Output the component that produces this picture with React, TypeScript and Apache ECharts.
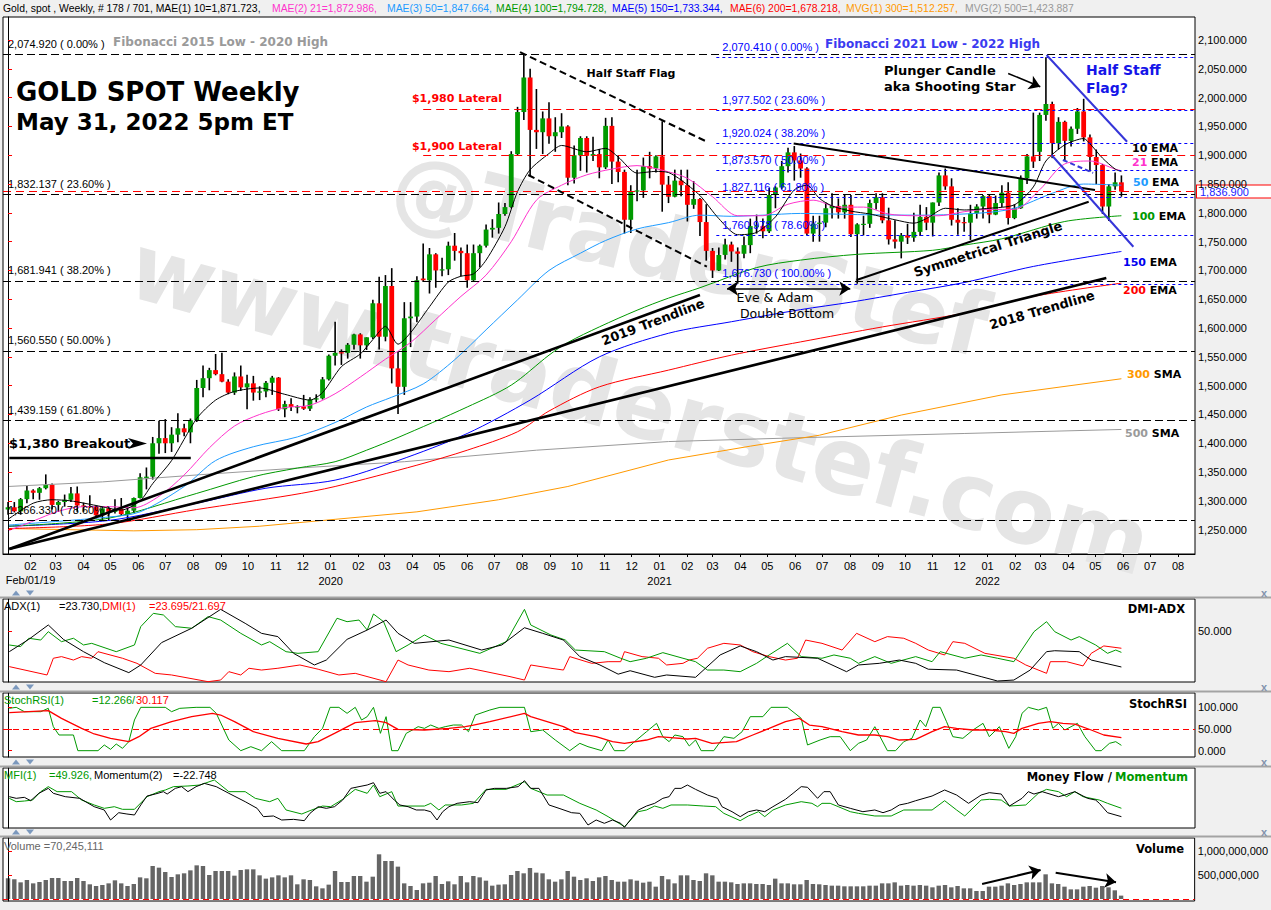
import { useEffect, useRef } from 'react';
import * as echarts from 'echarts';

// ---------------- DATA ----------------
const firstWeekStart = '2019-01-07';
const axisFirstMonth = [2019, 2];
const axisLastMonth = [2022, 8];
const axisStartCaption = 'Feb/01/19';

// weekly candles [open, high, low, close]
const ohlc2019 = [
  [1285, 1298, 1276, 1289], [1289, 1298, 1280, 1282], [1282, 1305, 1276, 1303], [1303, 1326, 1296, 1318],
  [1318, 1320, 1303, 1314], [1314, 1324, 1302, 1322], [1322, 1346, 1320, 1328], [1328, 1330, 1285, 1293],
  [1293, 1300, 1281, 1298], [1298, 1311, 1290, 1302], [1302, 1324, 1298, 1313], [1313, 1325, 1281, 1292],
  [1292, 1297, 1281, 1291], [1291, 1310, 1288, 1290], [1290, 1292, 1270, 1275], [1275, 1290, 1266, 1287],
  [1287, 1289, 1266, 1281], [1281, 1303, 1278, 1286], [1286, 1305, 1274, 1277], [1277, 1289, 1266, 1283],
  [1283, 1306, 1279, 1305], [1305, 1348, 1304, 1341], [1340, 1358, 1320, 1342], [1342, 1411, 1337, 1400],
  [1400, 1439, 1382, 1409], [1409, 1442, 1383, 1400], [1400, 1428, 1385, 1415], [1415, 1452, 1402, 1426],
  [1426, 1434, 1412, 1419], [1419, 1443, 1400, 1440], [1440, 1510, 1437, 1496], [1496, 1535, 1480, 1513],
  [1513, 1531, 1492, 1527], [1527, 1555, 1518, 1520], [1520, 1557, 1506, 1507], [1507, 1511, 1485, 1488],
  [1488, 1523, 1484, 1516], [1516, 1535, 1491, 1497], [1497, 1519, 1459, 1504], [1504, 1517, 1474, 1488],
  [1488, 1499, 1475, 1490], [1490, 1508, 1480, 1505], [1505, 1517, 1484, 1514], [1514, 1515, 1456, 1459],
  [1459, 1474, 1445, 1468], [1468, 1478, 1456, 1463], [1463, 1466, 1452, 1464], [1464, 1484, 1458, 1460],
  [1460, 1480, 1456, 1476], [1476, 1485, 1471, 1478], [1478, 1515, 1476, 1511], [1511, 1554, 1509, 1552],
];
const ohlc2020 = [
  [1552, 1611, 1535, 1557], [1558, 1563, 1536, 1557], [1557, 1574, 1547, 1571], [1571, 1590, 1563, 1589],
  [1589, 1591, 1547, 1570], [1570, 1584, 1562, 1584], [1584, 1649, 1581, 1643], [1643, 1689, 1563, 1585],
  [1585, 1692, 1577, 1673], [1673, 1704, 1504, 1530], [1530, 1560, 1451, 1498], [1498, 1645, 1484, 1617],
  [1617, 1645, 1567, 1620], [1620, 1690, 1610, 1683], [1686, 1747, 1680, 1683], [1683, 1739, 1660, 1728],
  [1728, 1730, 1670, 1700], [1700, 1722, 1690, 1702], [1702, 1750, 1692, 1743], [1743, 1765, 1717, 1734],
  [1734, 1740, 1690, 1730], [1730, 1745, 1670, 1683], [1683, 1745, 1681, 1730], [1730, 1745, 1705, 1743],
  [1743, 1780, 1740, 1771], [1771, 1789, 1757, 1774], [1774, 1818, 1764, 1798], [1798, 1817, 1795, 1810],
  [1810, 1907, 1808, 1902], [1902, 1984, 1900, 1975], [1975, 2075, 1961, 2035], [2035, 2050, 1863, 1944],
  [1944, 2015, 1911, 1940], [1940, 1976, 1902, 1964], [1964, 1992, 1920, 1933], [1933, 1966, 1906, 1940],
  [1940, 1973, 1930, 1950], [1950, 1952, 1848, 1861], [1861, 1917, 1851, 1900], [1900, 1933, 1873, 1930],
  [1930, 1933, 1870, 1899], [1899, 1932, 1890, 1902], [1902, 1911, 1860, 1879], [1879, 1965, 1876, 1951],
  [1951, 1966, 1850, 1889], [1889, 1900, 1853, 1871], [1871, 1875, 1764, 1788], [1788, 1848, 1765, 1838],
  [1838, 1875, 1820, 1839], [1839, 1896, 1826, 1881], [1881, 1906, 1860, 1877], [1877, 1900, 1870, 1898],
];
const ohlc2021 = [
  [1898, 1959, 1802, 1849], [1849, 1864, 1817, 1828], [1828, 1875, 1827, 1856], [1856, 1875, 1829, 1848],
  [1848, 1875, 1785, 1814], [1814, 1855, 1807, 1824], [1824, 1826, 1760, 1784], [1784, 1815, 1717, 1734],
  [1734, 1739, 1687, 1700], [1700, 1740, 1699, 1727], [1727, 1755, 1719, 1745], [1745, 1750, 1715, 1733],
  [1733, 1740, 1677, 1729], [1729, 1759, 1721, 1744], [1744, 1790, 1730, 1777], [1776, 1797, 1764, 1778],
  [1777, 1790, 1756, 1768], [1768, 1843, 1765, 1831], [1831, 1846, 1808, 1844], [1844, 1890, 1841, 1881],
  [1881, 1913, 1870, 1905], [1905, 1916, 1856, 1891], [1891, 1903, 1861, 1877], [1877, 1879, 1761, 1764],
  [1764, 1795, 1750, 1781], [1781, 1795, 1750, 1783], [1783, 1818, 1775, 1808], [1808, 1834, 1790, 1812],
  [1812, 1825, 1790, 1801], [1801, 1832, 1790, 1814], [1814, 1831, 1758, 1763], [1763, 1782, 1677, 1780],
  [1780, 1795, 1761, 1781], [1781, 1823, 1774, 1817], [1817, 1834, 1806, 1827], [1827, 1834, 1782, 1787],
  [1787, 1809, 1745, 1754], [1754, 1787, 1738, 1750], [1750, 1765, 1721, 1761], [1761, 1781, 1746, 1757],
  [1757, 1800, 1750, 1767], [1767, 1814, 1760, 1793], [1793, 1810, 1770, 1783], [1783, 1818, 1759, 1818],
  [1818, 1870, 1812, 1865], [1865, 1877, 1840, 1846], [1846, 1860, 1778, 1788], [1788, 1808, 1762, 1783],
  [1784, 1793, 1767, 1782], [1783, 1814, 1753, 1799], [1799, 1815, 1790, 1811], [1811, 1831, 1790, 1829],
];
const ohlc2022 = [
  [1829, 1831, 1782, 1797], [1797, 1830, 1796, 1817], [1817, 1848, 1810, 1835], [1835, 1853, 1780, 1791],
  [1791, 1815, 1789, 1808], [1808, 1865, 1807, 1860], [1860, 1902, 1850, 1898], [1898, 1974, 1878, 1889],
  [1906, 1974, 1890, 1970], [1970, 2070, 1960, 1989], [1989, 1993, 1895, 1921], [1921, 1966, 1910, 1958],
  [1958, 1960, 1890, 1925], [1925, 1950, 1915, 1946], [1946, 1982, 1937, 1976], [1976, 1998, 1924, 1931],
  [1931, 1936, 1872, 1897], [1897, 1910, 1850, 1883], [1883, 1885, 1798, 1811], [1811, 1850, 1786, 1846],
  [1846, 1870, 1840, 1853], [1853, 1865, 1828, 1836.9],
];

// moving averages [week index, value]
const ema10 = [[0, 1268], [4, 1296], [7, 1302], [10, 1300], [14, 1292], [18, 1284], [21, 1300], [23, 1330], [26, 1370], [30, 1443], [33, 1475], [36, 1490], [40, 1496], [44, 1485], [48, 1475], [50, 1488], [53, 1533], [56, 1555], [58, 1580], [60, 1603], [62, 1572], [64, 1592], [67, 1637], [70, 1680], [72, 1690], [74, 1694], [76, 1718], [79, 1776], [81, 1837], [83, 1875], [86, 1903], [88, 1917], [92, 1906], [95, 1912], [97, 1897], [100, 1869], [103, 1872], [105, 1870], [107, 1857], [110, 1830], [113, 1790], [116, 1762], [119, 1766], [122, 1793], [125, 1840], [127, 1848], [129, 1825], [131, 1812], [134, 1803], [137, 1798], [141, 1788], [144, 1782], [146, 1790], [149, 1808], [152, 1805], [156, 1808], [160, 1814], [163, 1845], [165, 1890], [168, 1918], [171, 1929], [172, 1920], [174, 1895], [176, 1876], [177, 1871.7]];
const ema21 = [[0, 1248], [4, 1265], [8, 1282], [12, 1290], [16, 1290], [20, 1288], [24, 1308], [28, 1345], [32, 1392], [36, 1430], [40, 1450], [44, 1462], [48, 1466], [52, 1486], [56, 1515], [60, 1546], [64, 1575], [68, 1615], [72, 1655], [76, 1692], [80, 1750], [84, 1822], [88, 1848], [92, 1866], [96, 1876], [100, 1882], [104, 1874], [108, 1860], [112, 1828], [116, 1795], [120, 1795], [124, 1815], [128, 1822], [132, 1810], [136, 1810], [140, 1798], [144, 1795], [148, 1795], [152, 1802], [156, 1806], [160, 1806], [164, 1840], [168, 1885], [172, 1890], [176, 1876], [177, 1873]];
const ema50 = [[0, 1258], [16, 1272], [21, 1281], [28, 1325], [33, 1370], [39, 1394], [46, 1411], [52, 1436], [57, 1463], [61, 1480], [66, 1503], [71, 1545], [76, 1597], [81, 1649], [86, 1700], [91, 1730], [95, 1752], [100, 1772], [105, 1783], [110, 1796], [115, 1794], [120, 1796], [126, 1799], [135, 1797], [145, 1796], [155, 1800], [160, 1808], [166, 1834], [171, 1850], [177, 1848]];
const ema100 = [[0, 1256], [16, 1270], [30, 1313], [39, 1342], [46, 1357], [52, 1368], [57, 1388], [62, 1410], [73, 1463], [80, 1501], [86, 1553], [89, 1575], [94, 1602], [100, 1631], [105, 1652], [110, 1670], [119, 1705], [126, 1718], [135, 1728], [147, 1735], [152, 1744], [158, 1755], [168, 1785], [177, 1795]];
const ema150 = [[0, 1256], [16, 1266], [30, 1296], [41, 1322], [52, 1336], [62, 1370], [73, 1417], [83, 1475], [94, 1550], [105, 1591], [115, 1611], [126, 1632], [134, 1645], [143, 1662], [152, 1679], [163, 1707], [177, 1733]];
const ema200 = [[0, 1252], [16, 1260], [30, 1285], [45, 1310], [52, 1325], [65, 1362], [73, 1388], [81, 1420], [86, 1456], [94, 1498], [105, 1527], [115, 1553], [126, 1576], [139, 1602], [152, 1626], [163, 1655], [177, 1678]];
const sma300 = [[0, 1252], [10, 1250], [20, 1248], [30, 1250], [40, 1256], [52, 1268], [65, 1281], [78, 1302], [89, 1325], [105, 1371], [118, 1395], [129, 1414], [142, 1449], [158, 1484], [177, 1512]];
const sma500 = [[0, 1325], [15, 1333], [30, 1345], [46, 1357], [63, 1368], [84, 1388], [105, 1403], [127, 1410], [152, 1417], [177, 1424]];

const priceTicks = [1250, 1300, 1350, 1400, 1450, 1500, 1550, 1600, 1650, 1700, 1750, 1800, 1850, 1900, 1950, 2000, 2050, 2100];
const fibBlack = [2074.92, 1832.137, 1681.941, 1560.55, 1439.159, 1266.33];
const fibBlackPct = ['0.00%', '23.60%', '38.20%', '50.00%', '61.80%', '78.60%'];
const fibBlue = [2070.41, 1977.502, 1920.024, 1873.57, 1827.116, 1760.978, 1676.73];
const fibBluePct = ['0.00%', '23.60%', '38.20%', '50.00%', '61.80%', '78.60%', '100.00%'];
const fibBlueStartWeek = 112.6;
const lateralLevels = [1980, 1900];
const lateralStartWeek = 66;
const lastPrice = 1836.9;

// hand-drawn annotation lines [week, price]
const trend2019 = [[0.2, 1216.5], [110, 1657.4]];
const trend2018 = [[0.2, 1216.5], [174.6, 1686.9]];
const flagUpper = [[81.4, 2079], [111.1, 1923.5]];
const flagLower = [[82.7, 1865.7], [111.1, 1706.5]];
const triUpper = [[124.9, 1920.6], [172.8, 1839.7]];
const triLower = [[134.9, 1683.4], [171.8, 1819.3]];
const blueFlagUpper = [[165.1, 2074], [177.9, 1923.5]];
const blueFlagLower = [[165.9, 1900.5], [178.9, 1741.2]];
const blueFlagMid = [[167.7, 1891.8], [172.5, 1869.3]];
const breakoutLine = [[0.2, 1375], [29.05, 1375]];
const eveAdamArrow = [[114.3, 1668.7], [133.9, 1668.7]];
const plungerArrow = [[159, 2042], [164.1, 2019]];

// indicators [week, value]
const adx = [[0.2, 34.9], [3.3, 43.9], [6.4, 54.4], [8.8, 43.9], [12, 34.9], [15.3, 26.9], [19.2, 19.6], [21.1, 25.2], [24.4, 41.5], [29.2, 52], [33.8, 65.8], [37.7, 55.6], [40.3, 48.3], [42.9, 45.9], [45.4, 33.7], [48.7, 25.2], [50.6, 28.8], [53.9, 43.9], [57.1, 50.7], [60.1, 58], [62, 48.3], [64.6, 41], [70.1, 43.4], [75.3, 36.1], [78.5, 39.8], [82.1, 52.4], [85, 48.3], [88.3, 43.4], [90.9, 31.3], [94.1, 25.2], [97, 18.5], [98.9, 21], [102.8, 16.2], [104.7, 17.9], [109.3, 16.2], [113.2, 32.5], [116.4, 39.1], [119, 34.9], [121.6, 28.8], [123.6, 31.3], [128.7, 30.1], [133.3, 20.3], [135.2, 25.2], [138.5, 26.4], [141.7, 28.8], [144.3, 26.4], [146.3, 22.1], [150.8, 21.5], [154.7, 16.7], [157.3, 13.5], [159.9, 14.2], [162.5, 21.5], [165.1, 34.9], [166.4, 35.6], [170.3, 34.9], [172.2, 28.8], [177, 23.73]];
const diGreen = [[0.2, 39.8], [2, 38.6], [3.3, 44.7], [5.2, 43.4], [6.4, 49.5], [8.5, 42.2], [10.4, 44.7], [12, 39.8], [13.3, 41], [17.2, 34.9], [20.1, 39.8], [21.1, 53.2], [23.1, 62.9], [24.7, 61.7], [26.6, 53.2], [29.2, 52], [31.8, 60.5], [33.8, 58], [37, 48.3], [40.3, 39.8], [41.6, 42.2], [44.2, 34.9], [46.1, 33.7], [49.3, 34.9], [52.3, 59.3], [53.9, 56.8], [55.8, 58], [57.1, 50.7], [58.1, 62.4], [59.7, 56.8], [61.7, 34.9], [63.6, 39.8], [66.2, 47.1], [68.8, 41], [75, 33.7], [79.2, 42.2], [82.1, 65.8], [83.1, 54.4], [86.3, 47.1], [88.6, 43.4], [90.2, 36.1], [94.8, 34.9], [97.4, 30.1], [98.9, 27.6], [101.5, 30.1], [104.1, 34.2], [107.3, 30.1], [109.3, 27.6], [111.2, 21.5], [113.8, 21.5], [116.4, 20.3], [119, 26.4], [121, 32.5], [123.9, 41], [126.1, 31.3], [129.4, 30.1], [131.3, 32.5], [133.9, 30.1], [135.2, 26.4], [137.8, 31.3], [140.4, 26.4], [144.3, 31.3], [146.9, 27.6], [148.2, 34.9], [152.1, 30.1], [154.7, 32.5], [157.3, 30.1], [159.9, 27.6], [163.1, 49.5], [165.1, 56.8], [166.4, 49.5], [169, 43.4], [170.3, 45.9], [172.9, 39.8], [174.8, 33.7], [176.1, 36.1], [177, 34.4]];
const diRed = [[0.2, 24], [6.2, 17.9], [7.2, 30.1], [8.5, 31.3], [10.4, 28.8], [11.7, 31.3], [13.3, 30.1], [14.3, 34.9], [18.2, 30.1], [20.5, 26.4], [23.4, 19.1], [26, 17.9], [31.8, 13], [33.8, 14.2], [35.1, 20.3], [37, 17.9], [38.3, 22.8], [40.3, 21.5], [42.9, 22.8], [46.4, 25.2], [49.3, 22.1], [52.6, 17.9], [55.2, 19.1], [60.1, 13], [62, 28.8], [63.6, 25.2], [66.9, 21.5], [70.1, 20.3], [73.4, 22.8], [79.8, 16.7], [82.1, 14.2], [83.1, 25.2], [86.3, 22.8], [88.3, 21.5], [89.3, 31.3], [92.8, 26.4], [95.4, 27.6], [97.4, 27.6], [98, 34.9], [100.8, 31.3], [103.4, 30.1], [104.7, 25.2], [107.3, 26.4], [108.3, 28.8], [109.6, 30.1], [111.2, 37.4], [113.8, 41], [116.4, 39.8], [118.4, 34.9], [121, 31.3], [123.6, 28.8], [125.5, 30.1], [126.8, 43.4], [129.4, 41], [132.6, 36.1], [134.9, 48.3], [137.8, 42.2], [139.8, 45.9], [142.4, 44.7], [144.3, 41], [146.3, 36.1], [148.9, 32.5], [150.2, 42.2], [152.1, 41], [155.3, 33.7], [159.9, 30.1], [161.8, 25.2], [165.1, 19.1], [165.7, 27.6], [168.3, 27.6], [170.9, 24.5], [172.2, 33.7], [174.2, 39.1], [177, 37.4]];
const stochK = [[0.2, 97.7], [1.3, 100], [2.6, 90], [5.2, 90], [6.4, 97.7], [7.2, 55.4], [8.1, 36.2], [10.4, 36.2], [11.1, 0], [14.3, 0], [15.3, 13.1], [16.3, 3.1], [17.2, 15.4], [18.2, 5.4], [19.2, 20.8], [20.1, 70.8], [21.1, 100], [25, 100], [26, 90], [27.3, 97.7], [29.9, 100], [32.1, 100], [33.1, 86.2], [35.1, 24.6], [37, 0], [38.6, 9.2], [40.3, 0], [41.9, 20.8], [43.5, 0], [47.1, 0], [48.7, 32.3], [50, 51.5], [51.2, 100], [52.6, 100], [53.9, 86.2], [55.2, 100], [56.2, 70.8], [57.1, 78.5], [58.1, 100], [58.8, 63.1], [59.2, 40], [60.1, 78.5], [61, 0], [62, 0], [63.3, 40], [64.3, 47.7], [65.2, 55.4], [66.2, 51.5], [67.2, 59.2], [68.5, 51.5], [69.5, 55.4], [70.8, 59.2], [72.1, 59.2], [73.2, 43.8], [74.3, 82.3], [76.6, 93.8], [78.2, 100], [82.1, 100], [83.1, 43.8], [85, 47.7], [87, 24.6], [89.3, 0], [90.9, 16.9], [92.2, 9.2], [94.4, 0], [95.4, 24.6], [96.4, 0], [98, 0], [99.6, 20.8], [101.5, 43.8], [103.1, 63.1], [104.1, 32.3], [105.1, 20.8], [106, 36.2], [107.3, 32.3], [108.3, 10.8], [109.3, 24.6], [110.2, 0], [112.2, 0], [113.8, 32.3], [115.4, 28.5], [116.7, 43.8], [118, 78.5], [120, 78.5], [121.3, 100], [123.9, 100], [126.1, 74.6], [127.1, 13.1], [129.1, 24.6], [130.7, 32.3], [132.3, 32.3], [133.9, 0], [135.2, 16.9], [136.5, 24.6], [137.8, 55.4], [139.8, 0], [141.1, 0], [142.4, 20.8], [143.7, 28.5], [145, 70.8], [145.9, 55.4], [147, 100], [148.2, 100], [149.2, 66.9], [150.2, 32.3], [151.8, 28.5], [153.4, 47.7], [155, 63.1], [156, 32.3], [157.6, 55.4], [159.1, 5.4], [160.2, 32.3], [161.2, 86.2], [162.2, 100], [163.8, 93.8], [165.1, 100], [166.1, 51.5], [167, 63.1], [168, 47.7], [170, 63.1], [171.2, 32.3], [172.9, 0], [173.8, 0], [175.1, 16.9], [176.1, 20.8], [177, 12.266]];
const stochD = [[0.2, 87.7], [6.4, 92.3], [8.5, 74.6], [11.7, 51.5], [13.7, 38.5], [16.3, 28.5], [19.2, 20.8], [20.8, 32.3], [22.7, 51.5], [26, 66.9], [29.2, 78.5], [32.5, 86.2], [33.8, 82.3], [36, 66.9], [39, 43.8], [42.9, 28.5], [47.4, 15.4], [49.3, 20.8], [51.9, 40], [55.2, 64.6], [58.4, 69.2], [60.1, 64.6], [62, 49.2], [66.2, 47.7], [70.1, 51.5], [72.7, 55.4], [74, 59.2], [76.6, 66.9], [82.1, 86.2], [83.1, 78.5], [88.3, 55.4], [90.2, 41.5], [93.5, 32.3], [96.1, 20.8], [98, 16.9], [101.5, 24.6], [103.4, 32.3], [105.4, 30], [108, 26.9], [109.3, 28.5], [111.9, 16.9], [115.8, 20.8], [118.4, 36.2], [121, 51.5], [123.6, 66.9], [125.8, 74.6], [127.4, 59.2], [129.4, 55.4], [132.6, 43.8], [135.2, 36.2], [137.8, 36.2], [139.8, 32.3], [141.7, 24.6], [144.3, 26.2], [146.9, 43.8], [148.9, 55.4], [150.8, 51.5], [153.4, 47.7], [156, 47.7], [158.6, 43.8], [159.9, 40], [161.2, 51.5], [163.8, 63.1], [165.7, 66.9], [167.7, 63.1], [169.6, 61.5], [172.2, 47.7], [174.2, 36.2], [177, 30.117]];
const moneyFlow = [[0.2, 65], [1.3, 59.9], [2.6, 60.9], [3.9, 62.4], [5.2, 75.1], [6.4, 82.7], [7.8, 75.1], [10.1, 75.1], [11.7, 62.4], [13.7, 54.9], [15.3, 49.8], [16.9, 52.3], [18.2, 48.3], [20.1, 48.3], [22.1, 67.5], [24, 75.1], [25, 77.6], [26.3, 82.7], [28.6, 83.7], [30.5, 85.2], [32.8, 92.8], [35.1, 75.1], [37.7, 75.1], [39.3, 65], [41.6, 59.9], [42.9, 65], [44.2, 47.3], [46.7, 41.2], [48, 46.3], [50, 53.3], [51.3, 52.3], [53.2, 63.5], [55.2, 78.6], [57.1, 72.6], [58.1, 85.2], [59.1, 67.5], [61, 75.1], [62, 53.3], [63.6, 53.3], [66.2, 53.3], [67.2, 57.4], [68.5, 47.3], [69.5, 54.9], [72.1, 54.9], [74, 57.4], [76, 78.6], [79.2, 78.6], [82.1, 90.2], [83.1, 80.1], [85.7, 70], [88.3, 70], [90.9, 57.4], [93.5, 47.3], [95.4, 37.2], [98, 22], [100.2, 44.7], [101.5, 47.3], [102.8, 53.3], [104.1, 49.8], [105.4, 54.9], [108, 54.9], [110.6, 53.3], [112.5, 52.3], [113.8, 42.2], [116.4, 31.1], [117.7, 38.2], [119.3, 44.7], [120.3, 37.2], [121.6, 47.3], [123.6, 54.9], [126.1, 59.9], [127.8, 57.4], [128.7, 52.3], [129.4, 57.4], [130.7, 57.4], [132, 52.3], [133.9, 44.7], [135.2, 42.2], [137.8, 38.2], [140.4, 38.2], [142.4, 47.3], [146.9, 47.3], [148.9, 61.4], [150.8, 47.3], [152.1, 38.2], [154.7, 62.4], [156, 63.5], [157.9, 62.4], [159.2, 53.3], [161.8, 54.9], [163.8, 72.6], [165.1, 78.6], [167, 75.1], [168.3, 67.5], [169.6, 75.1], [170.9, 67.5], [173.5, 62.4], [174.8, 57.4], [177, 49.926]];
const momentum = [[0.2, 67.5], [1.3, 65], [2.6, 66.5], [3.6, 61.4], [4.9, 72.6], [6.4, 80.1], [7.2, 72.6], [9.1, 67.5], [11.4, 65], [13.7, 52.3], [15.3, 47.3], [16.3, 32.1], [17.6, 43.2], [18.9, 41.2], [20.1, 39.7], [21.1, 54.9], [22.1, 68.5], [23.4, 71.5], [24.7, 75.1], [25.3, 71.5], [26.6, 80.1], [27.6, 82.7], [28.6, 75.1], [29.9, 82.7], [31.2, 87.7], [33.1, 82.7], [35.1, 72.6], [37.7, 59.9], [39.6, 49.8], [40.6, 37.2], [42.2, 38.2], [43.5, 32.1], [45.4, 33.1], [47.1, 31.1], [48, 42.2], [49.3, 52.3], [50.6, 49.8], [51.9, 52.3], [53.2, 62.4], [54.5, 80.1], [55.8, 82.7], [57.1, 85.2], [58.1, 88.7], [59.1, 72.6], [60.1, 75.1], [61.4, 62.4], [62.3, 54.9], [63.6, 52.3], [64.9, 47.3], [66.2, 47.3], [67.2, 44.7], [68.2, 32.1], [69.1, 44.7], [70.1, 52.3], [71.4, 57.4], [73.4, 59.9], [74.7, 58.4], [76, 77.6], [77.3, 80.1], [79.2, 80.1], [81.1, 82.7], [82.1, 91.8], [83.1, 80.1], [84.4, 80.1], [86, 54.9], [87.6, 49.8], [89.6, 43.2], [90.9, 42.2], [92.2, 24.5], [93.5, 32.1], [94.8, 27.1], [96.1, 32.1], [97.4, 27.1], [98, 21], [100.2, 47.3], [101.5, 53.3], [102.8, 57.4], [104.1, 65], [105.1, 67.5], [106, 80.1], [107, 80.1], [108, 85.2], [109.3, 78.6], [111.2, 70], [112.8, 65], [113.5, 52.3], [115.1, 44.7], [116.4, 37.2], [117.7, 44.7], [119, 47.3], [120.3, 44.7], [121.6, 52.3], [123.6, 63.5], [124.8, 72.6], [126.1, 82.7], [127.1, 81.7], [128.7, 65], [129.7, 75.1], [130.7, 75.1], [132, 54.9], [133.9, 49.8], [135.9, 44.7], [137.8, 47.3], [139.1, 43.2], [140.4, 47.3], [141.7, 54.9], [143, 57.4], [144.3, 61.4], [146.9, 68.5], [148.9, 77.6], [150.8, 70], [152.7, 57.4], [154.7, 70], [156, 73.6], [157.9, 71.5], [159.2, 53.3], [161.2, 65], [162.2, 75.1], [163.1, 71.5], [164.4, 75.1], [167, 67.5], [168, 70], [169.6, 75.1], [171.6, 65], [172.9, 62.4], [173.5, 57.4], [174.8, 43.2], [177, 37.2]];

// weekly volume, millions
const volume2019 = [431, 410, 347, 396, 326, 354, 396, 437, 437, 375, 375, 437, 375, 306, 271, 292, 326, 389, 326, 271, 313, 451, 431, 687, 653, 562, 458, 514, 535, 597, 701, 687, 500, 583, 583, 583, 486, 604, 618, 618, 493, 424, 451, 493, 451, 493, 306, 410, 396, 264, 222, 299];
const volume2020 = [583, 354, 354, 479, 479, 361, 465, 931, 792, 792, 674, 326, 271, 188, 326, 340, 479, 313, 368, 306, 479, 347, 479, 451, 382, 278, 299, 306, 500, 583, 535, 646, 549, 535, 410, 361, 410, 583, 465, 396, 431, 375, 451, 479, 396, 361, 361, 410, 382, 340, 361, 257];
const volume2021 = [479, 410, 326, 493, 493, 396, 375, 535, 493, 361, 361, 347, 313, 326, 326, 313, 313, 292, 424, 326, 326, 306, 306, 396, 313, 306, 292, 278, 278, 264, 264, 264, 264, 278, 278, 326, 326, 347, 278, 292, 278, 292, 278, 243, 278, 292, 243, 271, 222, 222, 167, 167];
const volume2022 = [257, 257, 278, 326, 292, 313, 347, 347, 347, 514, 326, 313, 257, 201, 201, 257, 271, 236, 271, 243, 181, 70.245111];
const volArrowUp = [[154.9, 312], [164.2, 604]];
const volArrowDown = [[166.6, 548], [176.2, 348]];

// ---------------- CHART ----------------
const SMALL = '"Liberation Sans", Arial, sans-serif';
const BOLDF = '"DejaVu Sans", Verdana, sans-serif';
const X_MIN = -0.8;
const X_MAX = 188.7;

const fmt = (v: number, d: number) =>
  v.toLocaleString('en-US', { minimumFractionDigits: d, maximumFractionDigits: d });

function buildMonthTicks() {
  const start = new Date(firstWeekStart + 'T00:00:00Z').getTime();
  const WEEK = 7 * 86400000;
  const values: number[] = [];
  const labels: { v: number; text: string }[] = [];
  let [y, m] = axisFirstMonth;
  while (y < axisLastMonth[0] || (y === axisLastMonth[0] && m <= axisLastMonth[1])) {
    const v = (Date.UTC(y, m - 1, 1) - start) / WEEK;
    values.push(v);
    const mm = String(m).padStart(2, '0');
    labels.push({ v, text: m === 1 ? `${mm}\n${y}` : mm });
    m++;
    if (m > 12) { m = 1; y++; }
  }
  const label = (val: number) => {
    let best = labels[0];
    for (const l of labels) if (Math.abs(l.v - val) < Math.abs(best.v - val)) best = l;
    return Math.abs(best.v - val) < 0.5 ? best.text : '';
  };
  return { values, label };
}

function txt(x: number, y: number, text: string, font: string, fill: string, align = 'left', extra: any = {}) {
  return {
    type: 'text', x, y, z: 20, silent: true,
    style: { text, font, fill, align, textAlign: align, verticalAlign: 'middle', textVerticalAlign: 'middle' },
    ...extra,
  };
}

function seg(p: number[][], style: any, extra: any = {}) {
  return [{ coord: p[0], lineStyle: style, ...extra }, { coord: p[1] }];
}

function buildOption() {
  const candles = [...ohlc2019, ...ohlc2020, ...ohlc2021, ...ohlc2022];
  const volumes = [...volume2019, ...volume2020, ...volume2021, ...volume2022];
  const months = buildMonthTicks();

  const grids = [
    { left: 3, top: 17, width: 1192, height: 537 },
    { left: 3, top: 599, width: 1192, height: 83 },
    { left: 3, top: 693, width: 1192, height: 64 },
    { left: 3, top: 768, width: 1192, height: 60 },
    { left: 3, top: 838, width: 1192, height: 63 },
  ].map((g) => ({ ...g, show: true, backgroundColor: '#ffffff', borderColor: '#000000', borderWidth: 1 }));

  const xAxes: any[] = grids.map((_, k) => ({
    type: 'value', gridIndex: k, min: X_MIN, max: X_MAX, show: k === 0, z: 6,
    splitLine: { show: false },
    axisLine: { show: true, lineStyle: { color: '#000', width: 1 } },
    axisTick: { show: true, customValues: months.values, length: 3, lineStyle: { color: '#000' } },
    axisLabel: {
      show: true, customValues: months.values, color: '#000', fontSize: 11, fontFamily: SMALL,
      lineHeight: 15, margin: 4, showMinLabel: true, showMaxLabel: true, hideOverlap: false,
      formatter: (v: number) => months.label(Number(v)),
    },
  }));

  const rightAxis = (k: number, min: number, max: number, ticks: number[], f: (v: number) => string) => ({
    type: 'value', gridIndex: k, position: 'right', min, max, z: 6,
    splitLine: { show: false },
    axisLine: { show: true, lineStyle: { color: '#000' } },
    axisTick: { show: ticks.length > 0, customValues: ticks, length: 4, lineStyle: { color: '#ff0000' } },
    axisLabel: { show: ticks.length > 0, customValues: ticks, formatter: f, color: '#000', fontSize: 11, fontFamily: SMALL, margin: 3, showMinLabel: true, showMaxLabel: true },
  });

  const yAxes = [
    rightAxis(0, 1207.8, 2140, priceTicks, (v) => fmt(v, 3)),
    rightAxis(1, 12.77, 73.36, [50], (v) => fmt(v, 3)),
    rightAxis(2, -14.6, 133.1, [0, 50, 100], (v) => fmt(v, 3)),
    rightAxis(3, 19.97, 111, [], (v) => fmt(v, 3)),
    rightAxis(4, -41.7, 1270.8, [500, 1000], (v) => fmt(v * 1e6, 0)),
  ];

  const line = (k: number, data: number[][], color: string, width = 1, smooth: number | boolean = false, z = 4) => ({
    type: 'line', xAxisIndex: k, yAxisIndex: k, data, symbol: 'none', showSymbol: false, smooth,
    lineStyle: { color, width }, z, silent: true,
  });

  const valueBox = (text: string) => ({
    show: true, position: 'end', distance: 2, formatter: text, color: '#2222ff', fontSize: 11, fontFamily: SMALL,
    backgroundColor: '#ffffff', borderColor: '#ff0000', borderWidth: 1, padding: [1, 30, 0, 3],
  });

  const holder = (k: number, z: number, markLine: any) => ({
    type: 'line', xAxisIndex: k, yAxisIndex: k, data: [[-5, 0]], symbol: 'none', showSymbol: false,
    lineStyle: { opacity: 0 }, z, silent: true, markLine: { silent: true, symbol: ['none', 'none'], label: { show: false }, animation: false, ...markLine },
  });

  const blackDash = { color: '#000', type: [8, 4], width: 1 };
  const blueDash = { color: '#0000ff', type: [3, 3], width: 1 };
  const redDash = { color: '#ff0000', type: [8, 5], width: 1 };

  const series: any[] = [
    holder(0, 2, {
      data: [
        ...fibBlack.map((v, i) => ({
          yAxis: v, lineStyle: blackDash,
          label: { show: true, position: 'insideStartTop', distance: [5, 5], formatter: `${fmt(v, 3)} ( ${fibBlackPct[i]} )`, color: '#000', fontSize: 11, fontFamily: SMALL },
        })),
        ...fibBlue.map((v, i) => [
          {
            coord: [fibBlueStartWeek, v], lineStyle: blueDash,
            label: { show: true, position: 'insideStartTop', distance: [6, 5], formatter: `${fmt(v, 3)} ( ${fibBluePct[i]} )`, color: '#0000ff', fontSize: 11, fontFamily: SMALL },
          },
          { coord: [X_MAX, v] },
        ]),
        ...lateralLevels.map((v) => [{ coord: [lateralStartWeek, v], lineStyle: redDash }, { coord: [X_MAX, v] }]),
      ],
    }),
    {
      type: 'custom', xAxisIndex: 0, yAxisIndex: 0, z: 3, silent: true,
      data: candles.map((c, i) => [i, c[0], c[1], c[2], c[3]]),
      encode: { x: 0, y: [1, 2, 3, 4] },
      renderItem: (_p: any, api: any) => {
        const i = api.value(0), o = api.value(1), h = api.value(2), l = api.value(3), c = api.value(4);
        const pH = api.coord([i, h]), pL = api.coord([i, l]), pO = api.coord([i, o]), pC = api.coord([i, c]);
        const bw = 4.8;
        const top = Math.min(pO[1], pC[1]);
        const hgt = Math.max(Math.abs(pO[1] - pC[1]), 1.2);
        return {
          type: 'group',
          children: [
            { type: 'line', shape: { x1: pH[0], y1: pH[1], x2: pL[0], y2: pL[1] }, style: { stroke: '#000', lineWidth: 1.6 } },
            { type: 'rect', shape: { x: pO[0] - bw / 2, y: top, width: bw, height: hgt }, style: { fill: c >= o ? '#009a00' : '#ff0000', stroke: null } },
          ],
        };
      },
    },
    line(0, sma500, '#9a9a9a'),
    line(0, sma300, '#ff9900'),
    line(0, ema200, '#ff0000', 1, 0.3),
    line(0, ema150, '#0000ff', 1, 0.3),
    line(0, ema100, '#009900', 1, 0.3),
    line(0, ema50, '#1e9bff', 1, 0.3),
    line(0, ema21, '#ff33cc', 1, 0.3),
    line(0, ema10, '#000000', 1, 0.25),
    holder(0, 5, {
      data: [
        seg(trend2019, { color: '#000', width: 2.6, type: 'solid' }),
        seg(trend2018, { color: '#000', width: 2.6, type: 'solid' }),
        seg(flagUpper, { color: '#000', width: 2, type: [7, 4] }),
        seg(flagLower, { color: '#000', width: 2, type: [7, 4] }),
        seg(triUpper, { color: '#000', width: 2, type: 'solid' }),
        seg(triLower, { color: '#000', width: 2, type: 'solid' }),
        seg(blueFlagUpper, { color: '#3535d8', width: 2, type: 'solid' }),
        seg(blueFlagLower, { color: '#3535d8', width: 2, type: 'solid' }),
        seg(blueFlagMid, { color: '#3535d8', width: 2, type: [5, 3] }),
        seg(breakoutLine, { color: '#000', width: 2.4, type: 'solid' }),
        { yAxis: lastPrice, lineStyle: redDash, label: valueBox(fmt(lastPrice, 3)) },
      ],
    }),
    holder(0, 5, {
      symbol: ['arrow', 'arrow'], symbolSize: 11,
      data: [seg(eveAdamArrow, { color: '#000', width: 1.6, type: 'solid' })],
    }),
    holder(0, 5, {
      symbol: ['none', 'arrow'], symbolSize: 11,
      data: [seg(plungerArrow, { color: '#000', width: 1.6, type: 'solid' })],
    }),
    line(1, diRed, '#ff0000', 1),
    line(1, diGreen, '#009900', 1),
    line(1, adx, '#000000', 1),
    holder(1, 6, { data: [{ yAxis: 23.73, lineStyle: { opacity: 0 }, label: valueBox('23.730') }] }),
    holder(2, 2, { data: [{ yAxis: 50, lineStyle: { color: '#ff0000', type: [6, 4], width: 1 } }] }),
    line(2, stochK, '#009900', 1),
    line(2, stochD, '#ff0000', 1.3),
    holder(2, 6, { data: [{ yAxis: 12.266, lineStyle: { opacity: 0 }, label: valueBox('12.266') }] }),
    line(3, moneyFlow, '#009900', 1),
    line(3, momentum, '#000000', 1),
    holder(3, 6, { data: [{ yAxis: 49.926, lineStyle: { opacity: 0 }, label: valueBox('49.926') }] }),
    {
      type: 'bar', xAxisIndex: 4, yAxisIndex: 4, data: volumes.map((v, i) => [i, v]), barWidth: 4.4,
      itemStyle: { color: '#656565' }, z: 3, silent: true,
    },
    holder(4, 4, { data: [{ yAxis: 0, lineStyle: { color: '#ff0000', type: [6, 4], width: 1 } }] }),
    holder(4, 6, { data: [{ yAxis: 70.245111, lineStyle: { opacity: 0 }, label: valueBox('70,245,111') }] }),
    holder(4, 5, {
      symbol: ['none', 'arrow'], symbolSize: 11,
      data: [seg(volArrowUp, { color: '#000', width: 2, type: 'solid' }), seg(volArrowDown, { color: '#000', width: 2, type: 'solid' })],
    }),
  ];

  const S = `11px ${SMALL}`;
  const H = `10.4px ${SMALL}`;
  const B11 = `bold 11px ${BOLDF}`;
  const B13 = `bold 13px ${BOLDF}`;
  const maLabel = (x: number, y: number, num: string, color: string, suffix: string) => [
    txt(x, y, num, B11, color),
    txt(x + num.length * 7.66 + 3.8, y, suffix, B11, '#000'),
  ];

  const graphic: any[] = [
    { type: 'text', x: 690, y: 255, rotation: -0.24, z: 1, silent: true, style: { text: '@TraderStef', font: `bold 88px ${BOLDF}`, fill: '#e5e5e5', align: 'center', textAlign: 'center', verticalAlign: 'middle', textVerticalAlign: 'middle' } },
    { type: 'text', x: 640, y: 405, rotation: -0.27, z: 1, silent: true, style: { text: 'www.traderstef.com', font: `bold 92px ${BOLDF}`, fill: '#e5e5e5', align: 'center', textAlign: 'center', verticalAlign: 'middle', textVerticalAlign: 'middle' } },
    txt(3, 8, 'Gold, spot , Weekly, # 178 / 701, MAE(1) 10=1,871.723,', H, '#000'),
    txt(272, 8, 'MAE(2) 21=1,872.986,', H, '#ff33cc'),
    txt(387, 8, 'MAE(3) 50=1,847.664,', H, '#1e9bff'),
    txt(496, 8, 'MAE(4) 100=1,794.728,', H, '#009900'),
    txt(612, 8, 'MAE(5) 150=1,733.344,', H, '#0000ff'),
    txt(730, 8, 'MAE(6) 200=1,678.218,', H, '#ff0000'),
    txt(846, 8, 'MVG(1) 300=1,512.257,', H, '#ff9900'),
    txt(965, 8, 'MVG(2) 500=1,423.887', H, '#999999'),
    txt(30.5, 580, axisStartCaption, S, '#000', 'center'),
    txt(16, 92, 'GOLD SPOT Weekly', `bold 26px ${BOLDF}`, '#000'),
    txt(16, 122, 'May 31, 2022 5pm ET', `bold 23px ${BOLDF}`, '#000'),
    txt(113, 42, 'Fibonacci 2015 Low - 2020 High', `bold 12px ${BOLDF}`, '#9a9a9a'),
    txt(825, 44, 'Fibonacci 2021 Low - 2022 High', `bold 12px ${BOLDF}`, '#3b3bf0'),
    txt(502, 98, '$1,980 Lateral', B11, '#ff0000', 'right'),
    txt(502, 146, '$1,900 Lateral', B11, '#ff0000', 'right'),
    txt(631, 73, 'Half Staff Flag', B11, '#000', 'center'),
    txt(884, 70, 'Plunger Candle', B13, '#000'),
    txt(884, 86, 'aka Shooting Star', B13, '#000'),
    txt(1086, 70, 'Half Staff', `bold 14px ${BOLDF}`, '#1515e8'),
    txt(1086, 88, 'Flag?', `bold 14px ${BOLDF}`, '#1515e8'),
    ...maLabel(1132, 148, '10', '#000', 'EMA'),
    ...maLabel(1132, 162.7, '21', '#ff33cc', 'EMA'),
    ...maLabel(1133, 182.7, '50', '#1e9bff', 'EMA'),
    ...maLabel(1132, 216, '100', '#009900', 'EMA'),
    ...maLabel(1123, 262.7, '150', '#0000ee', 'EMA'),
    ...maLabel(1123, 290.7, '200', '#ff0000', 'EMA'),
    ...maLabel(1127, 374, '300', '#ff9900', 'SMA'),
    ...maLabel(1125, 433, '500', '#9a9a9a', 'SMA'),
    txt(775, 297, 'Eve & Adam', `12.5px ${BOLDF}`, '#000', 'center'),
    txt(787, 313, 'Double Bottom', `12.5px ${BOLDF}`, '#000', 'center'),
    txt(988, 249, 'Symmetrical Triangle', B13, '#000', 'center', { rotation: 0.312 }),
    txt(653, 322, '2019 Trendline', B13, '#000', 'center', { rotation: 0.363 }),
    txt(1042, 310, '2018 Trendline', B13, '#000', 'center', { rotation: 0.283 }),
    txt(9, 443, '$1,380 Breakout', B13, '#000'),
    { type: 'polygon', z: 20, silent: true, shape: { points: [[128, 438], [147, 443.5], [128, 449], [133, 443.5]] }, style: { fill: '#000' } },
    txt(4, 606, 'ADX(1)', S, '#000'), txt(59, 606, '=23.730,', S, '#000'),
    txt(102, 606, 'DMI(1)', S, '#ff0000'), txt(149, 606, '=23.695/21.697', S, '#ff0000'),
    txt(1185, 609, 'DMI-ADX', `bold 11.5px ${BOLDF}`, '#000', 'right'),
    txt(4, 700, 'StochRSI(1)', S, '#009900'), txt(92, 700, '=12.266/', S, '#009900'), txt(136, 700, '30.117', S, '#ff0000'),
    txt(1187, 703.5, 'StochRSI', `bold 11.5px ${BOLDF}`, '#000', 'right'),
    txt(4, 775, 'MFI(1)', S, '#009900'), txt(49, 775, '=49.926,', S, '#009900'),
    txt(94, 775, 'Momentum(2)', S, '#000'), txt(173, 775, '=-22.748', S, '#000'),
    txt(1188, 776.5, 'Momentum', `bold 11.5px ${BOLDF}`, '#009900', 'right'),
    txt(1112, 776.5, 'Money Flow /', `bold 11.5px ${BOLDF}`, '#000', 'right'),
    txt(4, 846, 'Volume =70,245,111', S, '#666666'),
    txt(1184, 849, 'Volume', `bold 11.5px ${BOLDF}`, '#000', 'right'),
  ];

  [599, 693, 768, 838].forEach((T) => {
    graphic.push({ type: 'line', z: 19, silent: true, shape: { x1: 0, y1: T - 1.5, x2: 1271, y2: T - 1.5 }, style: { stroke: '#a3a3a3', lineWidth: 2 } });
    graphic.push({ type: 'polygon', z: 19, silent: true, shape: { points: [[12, T - 3.5], [20, T - 3.5], [16, T - 8.5]] }, style: { fill: '#7b98bd' } });
    graphic.push({ type: 'polygon', z: 19, silent: true, shape: { points: [[26, T - 8.5], [34, T - 8.5], [30, T - 3.5]] }, style: { fill: '#7b98bd' } });
    graphic.push(txt(1264, T - 6, 'x', `bold 11px ${SMALL}`, '#8394ad', 'center'));
  });

  return {
    animation: false,
    backgroundColor: '#f0f0f0',
    grid: grids,
    xAxis: xAxes,
    yAxis: yAxes,
    series,
    graphic,
  };
}

export default function App() {
  const ref = useRef<HTMLDivElement>(null);
  useEffect(() => {
    const chart = echarts.init(ref.current as HTMLDivElement, null, { renderer: 'svg' });
    chart.setOption(buildOption() as any);
    return () => chart.dispose();
  }, []);
  return (
    <div
      ref={ref}
      style={{ position: 'absolute', left: 0, top: 0, width: 1271, height: 910, background: '#f0f0f0' }}
    />
  );
}
